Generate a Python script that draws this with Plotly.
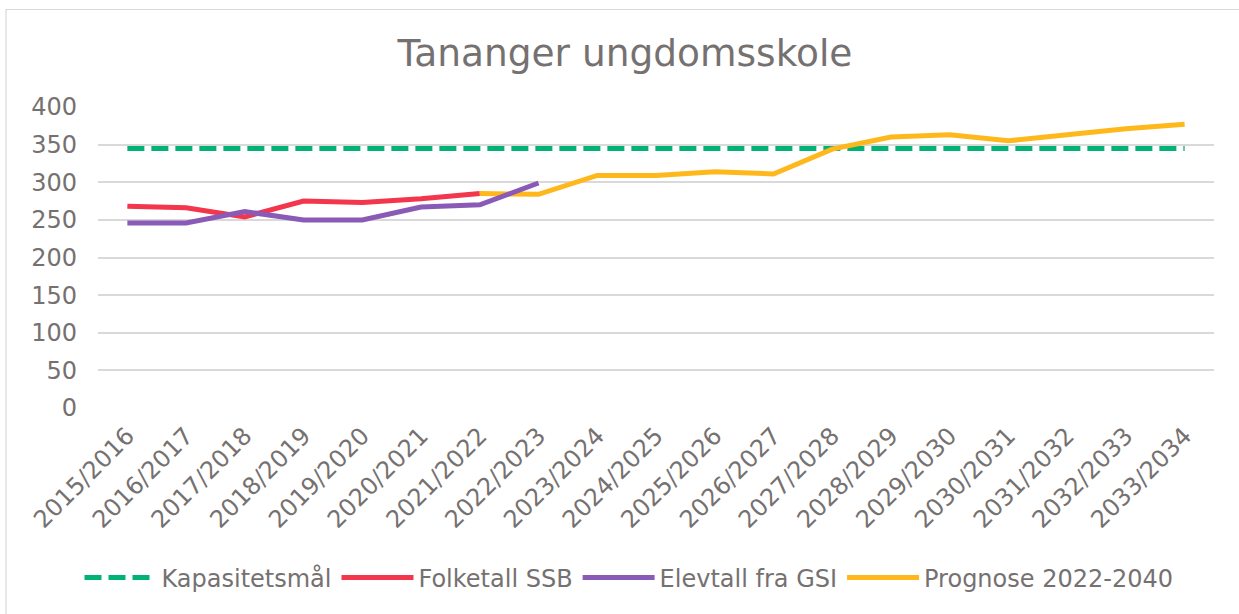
import plotly.graph_objects as go

categories = ["2015/2016", "2016/2017", "2017/2018", "2018/2019", "2019/2020",
              "2020/2021", "2021/2022", "2022/2023", "2023/2024", "2024/2025",
              "2025/2026", "2026/2027", "2027/2028", "2028/2029", "2029/2030",
              "2030/2031", "2031/2032", "2032/2033", "2033/2034"]

kapasitet = [345] * 19
folketall = [268, 266, 254, 275, 273, 278, 285] + [None] * 12
elevtall = [246, 246, 261, 250, 250, 267, 270, 299] + [None] * 11
prognose = [None] * 6 + [285, 284, 309, 309, 314, 311, 344, 360, 363, 355, 363, 371, 377]

y_ticks = [0, 50, 100, 150, 200, 250, 300, 350, 400]

FONT = "Verdana, DejaVu Sans, sans-serif"
GRAY = "#767171"
LW = 5

fig = go.Figure()
fig.add_trace(go.Scatter(x=categories, y=kapasitet, name="Kapasitetsmål", mode="lines",
                         line=dict(color="#00B274", width=LW, dash="17px,7px"), legendrank=1))
fig.add_trace(go.Scatter(x=categories, y=folketall, name="Folketall SSB", mode="lines",
                         line=dict(color="#F4364C", width=LW), legendrank=2))
fig.add_trace(go.Scatter(x=categories, y=prognose, name="Prognose 2022-2040", mode="lines",
                         line=dict(color="#FFB81C", width=LW), legendrank=4))
fig.add_trace(go.Scatter(x=categories, y=elevtall, name="Elevtall fra GSI", mode="lines",
                         line=dict(color="#8A5BB6", width=LW), legendrank=3))

L, R, T, B = 98, 25, 107, 206
W, H = 1239, 614
pw = W - L - R
ph = H - T - B

def px_x(p):
    return (p - L) / pw

def px_y(p):
    return (H - B - p) / ph

fig.update_layout(
    width=W, height=H,
    margin=dict(l=L, r=R, t=T, b=B),
    paper_bgcolor="white", plot_bgcolor="white",
    font=dict(family=FONT, color=GRAY, size=24),
    title=dict(text="Tananger ungdomsskole", x=625 / W, xanchor="center",
               y=1 - 53 / H, yanchor="middle", xref="container", yref="container",
               font=dict(size=37.5, color=GRAY, family=FONT)),
    xaxis=dict(type="category", categoryorder="array", categoryarray=categories,
               range=[-0.5, 18.5], tickangle=-45, showgrid=False, zeroline=False,
               showline=False, ticks="", ticklabelstandoff=8,
               tickfont=dict(size=24, color=GRAY)),
    yaxis=dict(range=[0, 400], tickvals=y_ticks, showgrid=True, gridcolor="#d9d9d9",
               gridwidth=1.5, zeroline=False, showline=False, ticks="",
               ticklabelstandoff=20, tickfont=dict(size=24, color=GRAY)),
    legend=dict(orientation="h", x=px_x(629), xanchor="center", y=px_y(578), yanchor="middle",
                font=dict(size=24, color=GRAY), itemwidth=72, traceorder="normal",
                bgcolor="rgba(0,0,0,0)"),
    hovermode=False,
    shapes=[dict(type="rect", xref="paper", yref="paper",
                 x0=px_x(6), x1=px_x(1250), y0=px_y(630), y1=px_y(9.5),
                 line=dict(color="#d9d9d9", width=1.2), fillcolor="rgba(0,0,0,0)",
                 layer="below")],
)

fig.write_html("out.html", config={"displayModeBar": False},
               post_script="document.body.style.margin='0';document.body.style.overflow='hidden';")
